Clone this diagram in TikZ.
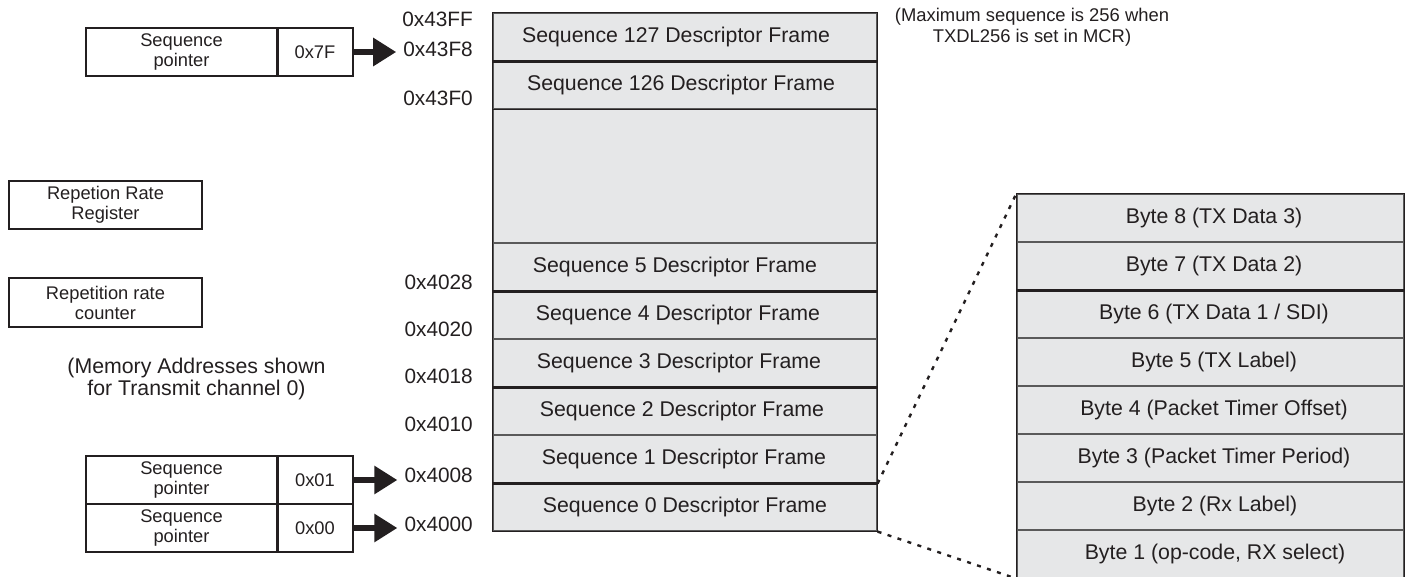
\documentclass[tikz,border=0pt]{standalone}
\usepackage{fontspec}
\setmainfont{Liberation Sans}
\usetikzlibrary{arrows.meta}
\definecolor{ink}{HTML}{231F20}
\definecolor{cell}{HTML}{E6E7E8}
\definecolor{sepgray}{HTML}{5A5A5A}
\begin{document}
\begin{tikzpicture}[x=1pt,y=-1pt,
  big/.style={font=\fontsize{21.3}{21.5}\selectfont, text=ink, inner sep=0pt, align=center},
  small/.style={font=\fontsize{18.4}{20}\selectfont, text=ink, inner sep=0pt, align=center},
  rowbox/.style={draw=sepgray, line width=1.2pt, fill=cell, minimum width=384pt, minimum height=48pt, inner sep=0pt},
  bytebox/.style={draw=sepgray, line width=1.2pt, fill=cell, minimum width=387pt, minimum height=48pt, inner sep=0pt, font=\fontsize{21.3}{21.5}\selectfont, text=ink},
  regbox/.style={draw=ink, line width=2pt, minimum height=48pt, inner sep=0pt, font=\fontsize{18.3}{20}\selectfont, text=ink, align=center},
  sepline/.style={ink, line width=2.6pt},
  outline/.style={ink, line width=1.6pt},
  ptrarrow/.style={ink, line width=6.5pt, -{Triangle[length=23pt,width=27pt]}},
  zoomline/.style={ink, line width=2.4pt, dash pattern=on 4pt off 6.5pt},
  addr/.style={font=\fontsize{20.8}{21}\selectfont, text=ink, inner sep=0pt, anchor=east}
]
\useasboundingbox (0,0) rectangle (1411,576);

% ---- main descriptor column ----
\node[rowbox] (s127) at (685,37) {};
\node[rowbox] (s126) at (685,85) {};
\node[rowbox, minimum height=134pt] (gap) at (685,176) {};
\node[rowbox] (s5) at (685,267) {};
\node[rowbox] (s4) at (685,315) {};
\node[rowbox] (s3) at (685,363) {};
\node[rowbox] (s2) at (685,411) {};
\node[rowbox] (s1) at (685,459) {};
\node[rowbox] (s0) at (685,507) {};
\draw[ink, line width=1.2pt] (s126.south west) -- (s126.south east);
\draw[sepline] (s127.south west) -- (s127.south east);
\draw[sepline] (s5.south west) -- (s5.south east);
\draw[sepline] (s3.south west) -- (s3.south east);
\draw[sepline] (s1.south west) -- (s1.south east);
\draw[outline] (s127.north west) rectangle (s0.south east);

\node[big] at ([xshift=-9pt]s127.center) {Sequence 127 Descriptor Frame};
\node[big] at ([xshift=-4pt]s126.center) {Sequence 126 Descriptor Frame};
\node[big] at ([xshift=-10pt]s5.center) {Sequence 5 Descriptor Frame};
\node[big] at ([xshift=-7pt]s4.center) {Sequence 4 Descriptor Frame};
\node[big] at ([xshift=-6pt]s3.center) {Sequence 3 Descriptor Frame};
\node[big] at ([xshift=-3pt]s2.center) {Sequence 2 Descriptor Frame};
\node[big] at ([xshift=-1pt]s1.center) {Sequence 1 Descriptor Frame};
\node[big] at (s0.center) {Sequence 0 Descriptor Frame};

% ---- addresses ----
\node[addr] (a43ff) at (473,19) {0x43FF};
\node[addr] (a43f8) at (473,49) {0x43F8};
\node[addr] (a43f0) at (473,98) {0x43F0};
\node[addr] (a4028) at (473,282) {0x4028};
\node[addr] (a4020) at (473,329) {0x4020};
\node[addr] (a4018) at (473,376) {0x4018};
\node[addr] (a4010) at (473,424) {0x4010};
\node[addr] (a4008) at (473,475) {0x4008};
\node[addr] (a4000) at (473,524) {0x4000};

% ---- note ----
\node[small, font=\fontsize{18.4}{21.5}\selectfont] (note) at (1032,27) {(Maximum sequence is 256 when\\TXDL256 is set in MCR)};

% ---- sequence pointers ----
\node[regbox, minimum width=191pt] (p127) at (181.5,52) {Sequence\\pointer};
\node[regbox, minimum width=76pt] (v127) at (315,52) {0x7F};
\node[regbox, minimum width=191pt] (p1) at (181.5,480) {Sequence\\pointer};
\node[regbox, minimum width=76pt] (v1) at (315,480) {0x01};
\node[regbox, minimum width=191pt] (p0) at (181.5,528) {Sequence\\pointer};
\node[regbox, minimum width=76pt] (v0) at (315,528) {0x00};
\draw[ink, line width=2.8pt] (p127.north east) -- (p127.south east);
\draw[ink, line width=2.8pt] (p1.north east) -- (p0.south east);

\draw[ptrarrow, shorten >=7pt] (v127.east) -- (v127.east -| a43f8.west);
\draw[ptrarrow, shorten >=7pt] (v1.east) -- (v1.east -| a4008.west);
\draw[ptrarrow, shorten >=7pt] (v0.east) -- (v0.east -| a4000.west);

% ---- repetition boxes ----
\node[regbox, minimum width=193pt] (rrr) at (105.5,205) {Repetion Rate\\Register};
\node[regbox, minimum width=193pt, minimum height=49pt] (rrc) at (105.5,302.5) {Repetition rate\\counter};

\node[big] (mem) at (196.5,379) {(Memory Addresses shown\\for Transmit channel 0)};

% ---- byte column ----
\node[bytebox] (b8) at (1210.5,218) {\hspace*{7pt}Byte 8 (TX Data 3)};
\node[bytebox] (b7) at (1210.5,266) {\hspace*{7pt}Byte 7 (TX Data 2)};
\node[bytebox] (b6) at (1210.5,314) {\hspace*{7pt}Byte 6 (TX Data 1 / SDI)};
\node[bytebox] (b5) at (1210.5,362) {\hspace*{7pt}Byte 5 (TX Label)};
\node[bytebox] (b4) at (1210.5,410) {\hspace*{7pt}Byte 4 (Packet Timer Offset)};
\node[bytebox] (b3) at (1210.5,458) {\hspace*{7pt}Byte 3 (Packet Timer Period)};
\node[bytebox] (b2) at (1210.5,506) {\hspace*{9pt}Byte 2 (Rx Label)};
\node[bytebox] (b1) at (1210.5,554) {\hspace*{9pt}Byte 1 (op-code, RX select)};
\draw[sepline] (b7.south west) -- (b7.south east);
\draw[outline] (b1.south west) -- (b8.north west) -- (b8.north east) -- (b1.south east);

% ---- zoom lines ----
\draw[zoomline] (s1.south east) -- (b8.north west);
\draw[zoomline] (s0.south east) -- (b1.south west);
\end{tikzpicture}
\end{document}
